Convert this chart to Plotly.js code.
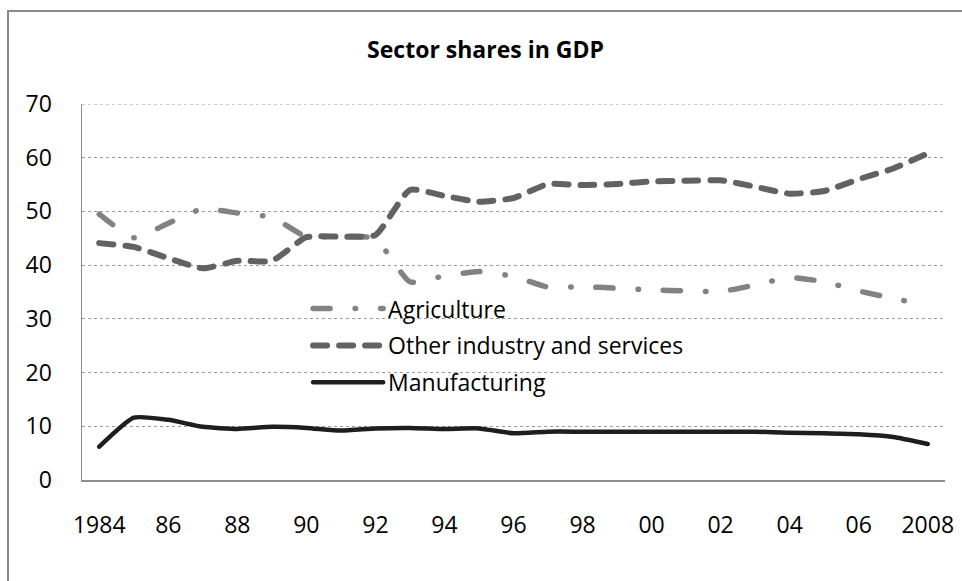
<!DOCTYPE html>
<html>
<head>
<meta charset="utf-8">
<script src="https://cdn.plot.ly/plotly-3.0.1.min.js"></script>
<style>
  html, body { margin: 0; padding: 0; background: #fff; }
  #chart { width: 962px; height: 581px; }
  .js-line, .legendlines path { stroke-linecap: round; }
</style>
</head>
<body>
<div id="chart"></div>
<script>
// ---- data ----
const years = ['1984','1985','1986','1987','1988','1989','1990','1991','1992','1993','1994','1995','1996',
               '1997','1998','1999','2000','2001','2002','2003','2004','2005','2006','2007','2008'];
const agriculture = [49.5, 45.1, 47.8, 50.5, 49.7, 48.9, 45.3, 45.4, 44.9, 36.9, 38.0, 38.8, 37.9,
                     35.9, 36.0, 35.7, 35.4, 35.2, 35.1, 36.3, 37.7, 36.9, 35.2, 33.8, 32.5];
const otherIndustry = [44.1, 43.4, 41.3, 39.4, 40.8, 40.8, 45.2, 45.3, 45.6, 54.0, 52.9, 51.8, 52.5,
                       55.1, 54.9, 55.1, 55.6, 55.7, 55.8, 54.6, 53.3, 53.8, 56.0, 58.0, 60.8];
const manufacturing = [6.2, 11.6, 11.2, 9.9, 9.5, 9.9, 9.7, 9.2, 9.6, 9.7, 9.5, 9.6, 8.7,
                       9.0, 9.0, 9.0, 9.0, 9.0, 9.0, 9.0, 8.8, 8.7, 8.5, 8.0, 6.7];
const xTickVals = ['1984','1986','1988','1990','1992','1994','1996','1998','2000','2002','2004','2006','2008'];
const xTickText = ['1984','86','88','90','92','94','96','98','00','02','04','06','2008'];
const yTickVals = [0, 10, 20, 30, 40, 50, 60, 70];
const yMax = 70;
const seriesNames = ['Agriculture', 'Other industry and services', 'Manufacturing'];
const titleText = 'Sector shares in GDP';

const FONT = '"Open Sans", "DejaVu Sans", sans-serif';

const traces = [
  {
    x: years, y: agriculture, name: seriesNames[0], type: 'scatter', mode: 'lines',
    legendgroup: 'a',
    line: { color: '#828282', width: 5.5, dash: '17px,25px,0.5px,25px', shape: 'spline', smoothing: 0.5 }
  },
  {
    x: years, y: otherIndustry, name: seriesNames[1], type: 'scatter', mode: 'lines',
    legendgroup: 'b',
    line: { color: '#626262', width: 6, dash: '14px,12px', shape: 'spline', smoothing: 0.5 }
  },
  {
    x: years, y: manufacturing, name: seriesNames[2], type: 'scatter', mode: 'lines',
    legendgroup: 'c',
    line: { color: '#1e1e1e', width: 4.5, shape: 'spline', smoothing: 0.5 }
  }
];

const layout = {
  width: 962, height: 581,
  margin: { l: 82, r: 17, t: 104, b: 101 },
  paper_bgcolor: '#ffffff', plot_bgcolor: '#ffffff',
  font: { family: FONT, size: 23, color: '#000000' },
  title: {
    text: '<b>' + titleText + '</b>',
    font: { family: FONT, size: 23, color: '#000000' },
    xref: 'container', x: 0.5047, xanchor: 'center',
    yref: 'container', y: 0.914, yanchor: 'middle'
  },
  xaxis: {
    type: 'category',
    range: [-0.5, 24.5],
    tickmode: 'array', tickvals: xTickVals, ticktext: xTickText,
    showgrid: false, zeroline: false,
    showline: true, linecolor: '#8c8c8c', linewidth: 1.5,
    ticks: '', ticklabelstandoff: 24,
    tickfont: { family: FONT, size: 23, color: '#000' }
  },
  yaxis: {
    range: [0, yMax],
    tickmode: 'array', tickvals: yTickVals,
    showgrid: true, gridcolor: '#9a9a9a', gridwidth: 1, griddash: 'dot',
    zeroline: false,
    showline: true, linecolor: '#8c8c8c', linewidth: 1.5,
    ticks: '', ticklabelstandoff: 24,
    tickfont: { family: FONT, size: 23, color: '#000' }
  },
  showlegend: true,
  legend: {
    x: 0.262, xanchor: 'left',
    y: 0.513, yanchor: 'top',
    bgcolor: 'rgba(0,0,0,0)', borderwidth: 0,
    tracegroupgap: 4,
    itemwidth: 70,
    font: { family: FONT, size: 23, color: '#000' }
  },
  shapes: [
    {
      // top gridline at the range end (Plotly skips the grid line on the plot edge)
      type: 'line', xref: 'paper', yref: 'y',
      x0: 0, x1: 1, y0: yMax, y1: yMax,
      line: { color: '#9a9a9a', width: 1, dash: 'dot' }, layer: 'below'
    },
    {
      // outer chart-area border
      type: 'rect', xref: 'paper', yref: 'paper',
      x0: (8 - 82) / 863, x1: 1.2, y0: -0.5, y1: 1 + (104 - 11) / 376,
      line: { color: '#8a8a8a', width: 2 }, fillcolor: 'rgba(0,0,0,0)', layer: 'below'
    }
  ]
};

Plotly.newPlot('chart', traces, layout, { displayModeBar: false, staticPlot: true });
</script>
</body>
</html>
